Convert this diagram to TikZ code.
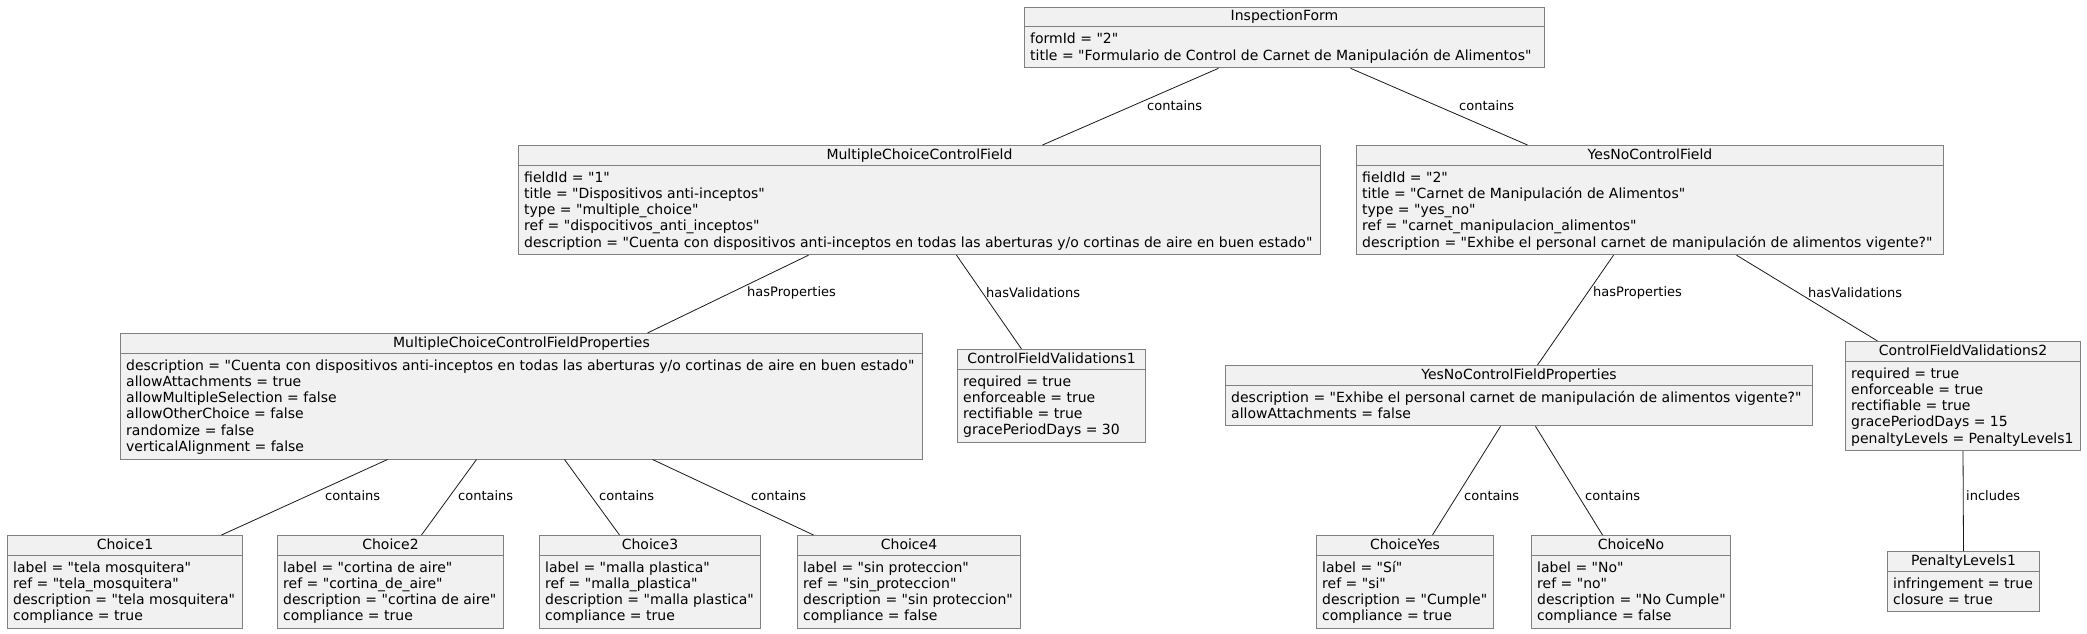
\documentclass[tikz,border=0pt]{standalone}
\usepackage{fontspec}
\setmainfont{DejaVu Sans}[Ligatures=TeXOff]
\definecolor{boxfill}{RGB}{241,241,241}
\definecolor{boxdraw}{RGB}{128,128,128}
\definecolor{edgecol}{RGB}{24,24,24}
\tikzset{
  objbox/.style={draw=boxdraw, fill=boxfill, line width=1pt, inner sep=0pt, rectangle},
  objline/.style={draw=boxdraw, line width=1pt},
  objtxt/.style={inner sep=0pt, font=\fontsize{14}{16.3}\selectfont, text=black},
  edge/.style={draw=edgecol, line width=0.8pt},
  lbl/.style={inner sep=0pt, anchor=west, font=\fontsize{13}{15}\selectfont, text=black}
}
\newcommand\umlobj[7]{%
  \node[objbox, minimum width=#4pt, minimum height=#5pt, anchor=north west] (#1) at (#2,#3) {};
  \draw[objline] ([yshift=-20pt]#1.north west) -- ([yshift=-20pt]#1.north east);
  \node[objtxt, anchor=base] at ([yshift=-14pt]#1.north) {#6};
  \foreach \t [count=\i] in {#7} {
    \node[objtxt, anchor=base west] at ([xshift=6pt, yshift={-37-16.3*(\i-1)}]#1.north west) {\t};
  }
}
\begin{document}
\begin{tikzpicture}[x=1pt,y=-1pt]
\useasboundingbox (0,0) rectangle (2087,634);

\umlobj{if}{1024}{7}{520}{60.3}{InspectionForm}{{formId = "2"},{title = "Formulario de Control de Carnet de Manipulación de Alimentos"}}

\umlobj{mccf}{518}{145}{802}{109.2}{MultipleChoiceControlField}{{fieldId = "1"},{title = "Dispositivos anti-inceptos"},{type = "multiple\_choice"},{ref = "dispocitivos\_anti\_inceptos"},{description = "Cuenta con dispositivos anti-inceptos en todas las aberturas y/o cortinas de aire en buen estado"}}

\umlobj{yncf}{1356}{145}{587}{109.2}{YesNoControlField}{{fieldId = "2"},{title = "Carnet de Manipulación de Alimentos"},{type = "yes\_no"},{ref = "carnet\_manipulacion\_alimentos"},{description = "Exhibe el personal carnet de manipulación de alimentos vigente?"}}

\umlobj{mccfp}{120}{333}{802}{125.5}{MultipleChoiceControlFieldProperties}{{description = "Cuenta con dispositivos anti-inceptos en todas las aberturas y/o cortinas de aire en buen estado"},{allowAttachments = true},{allowMultipleSelection = false},{allowOtherChoice = false},{randomize = false},{verticalAlignment = false}}

\umlobj{cfv1}{957}{349}{188}{92.9}{ControlFieldValidations1}{{required = true},{enforceable = true},{rectifiable = true},{gracePeriodDays = 30}}

\umlobj{yncfp}{1225}{365}{587}{60.3}{YesNoControlFieldProperties}{{description = "Exhibe el personal carnet de manipulación de alimentos vigente?"},{allowAttachments = false}}

\umlobj{cfv2}{1845}{341}{235}{109.2}{ControlFieldValidations2}{{required = true},{enforceable = true},{rectifiable = true},{gracePeriodDays = 15},{penaltyLevels = PenaltyLevels1}}

\umlobj{c1}{7}{535}{235}{92.9}{Choice1}{{label = "tela mosquitera"},{ref = "tela\_mosquitera"},{description = "tela mosquitera"},{compliance = true}}
\umlobj{c2}{277}{535}{226}{92.9}{Choice2}{{label = "cortina de aire"},{ref = "cortina\_de\_aire"},{description = "cortina de aire"},{compliance = true}}
\umlobj{c3}{539}{535}{221}{92.9}{Choice3}{{label = "malla plastica"},{ref = "malla\_plastica"},{description = "malla plastica"},{compliance = true}}
\umlobj{c4}{797}{535}{223}{92.9}{Choice4}{{label = "sin proteccion"},{ref = "sin\_proteccion"},{description = "sin proteccion"},{compliance = false}}
\umlobj{cy}{1316}{535}{177}{92.9}{ChoiceYes}{{label = "Sí"},{ref = "si"},{description = "Cumple"},{compliance = true}}
\umlobj{cn}{1531}{535}{199}{92.9}{ChoiceNo}{{label = "No"},{ref = "no"},{description = "No Cumple"},{compliance = false}}
\umlobj{pl}{1887}{551}{152}{60.3}{PenaltyLevels1}{{infringement = true},{closure = true}}

% connectors
\draw[edge] ([xshift=-66pt]if.south) -- ([xshift=123pt]mccf.north);
\draw[edge] ([xshift=66pt]if.south) -- ([xshift=-122.5pt]yncf.north);
\draw[edge] ([xshift=-111pt]mccf.south) -- ([xshift=126pt]mccfp.north);
\draw[edge] ([xshift=37pt]mccf.south) -- ([xshift=-30pt]cfv1.north);
\draw[edge] ([xshift=-36.5pt]yncf.south) -- ([xshift=18.5pt]yncfp.north);
\draw[edge] ([xshift=86.5pt]yncf.south) -- ([xshift=-85.5pt]cfv2.north);
\draw[edge] ([xshift=-134pt]mccfp.south) -- ([xshift=96.5pt]c1.north);
\draw[edge] ([xshift=-45pt]mccfp.south) -- ([xshift=31pt]c2.north);
\draw[edge] ([xshift=43pt]mccfp.south) -- ([xshift=-30.5pt]c3.north);
\draw[edge] ([xshift=131pt]mccfp.south) -- ([xshift=-95.5pt]c4.north);
\draw[edge] ([xshift=-18.5pt]yncfp.south) -- ([xshift=27.5pt]cy.north);
\draw[edge] ([xshift=16.5pt]yncfp.south) -- ([xshift=-28.5pt]cn.north);
\draw[edge] (cfv2.south) -- (pl.north);

% labels
\node[lbl] (l1) at (1147,106) {contains};
\node[lbl] (l2) at (1459,106) {contains};
\node[lbl] (l3) at (747,293) {hasProperties};
\node[lbl] (l4) at (986,293) {hasValidations};
\node[lbl] (l5) at (1593,293) {hasProperties};
\node[lbl] (l6) at (1808,293) {hasValidations};
\node[lbl] (l7) at (325,496) {contains};
\node[lbl] (l8) at (458,496) {contains};
\node[lbl] (l9) at (599,496) {contains};
\node[lbl] (l10) at (751,496) {contains};
\node[lbl] (l11) at (1464,496) {contains};
\node[lbl] (l12) at (1585,496) {contains};
\node[lbl] (l13) at (1966,496) {includes};
\end{tikzpicture}
\end{document}
